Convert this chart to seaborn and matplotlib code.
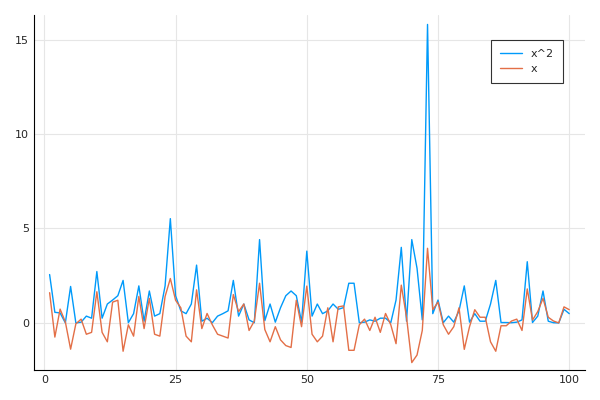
import matplotlib
matplotlib.use("Agg")
import matplotlib.pyplot as plt
import seaborn as sns
import numpy as np
import pandas as pd

x_vals = [1.6, -0.75, 0.73, 0.05, -1.39, -0.05, 0.2, -0.6, -0.5, 1.65,
          -0.5, -1.0, 1.1, 1.2, -1.5, -0.1, -0.7, 1.4, -0.3, 1.3,
          -0.6, -0.7, 1.4, 2.35, 1.2, 0.8, -0.7, -1.0, 1.75, -0.3,
          0.5, -0.1, -0.6, -0.7, -0.8, 1.5, 0.6, 1.0, -0.4, 0.1,
          2.1, -0.35, -1.0, -0.2, -0.9, -1.2, -1.3, 1.2, -0.2, 1.95,
          -0.6, -1.0, -0.7, 0.8, -1.0, 0.85, 0.9, -1.45, -1.45, -0.1,
          0.2, -0.4, 0.3, -0.5, 0.5, -0.1, -1.1, 2.0, 0.3, -2.1,
          -1.7, -0.4, 3.95, 0.7, 1.1, -0.1, -0.6, -0.2, 0.8, -1.4,
          -0.2, 0.7, 0.3, 0.3, -1.0, -1.5, -0.15, -0.15, 0.1, 0.2,
          -0.4, 1.8, 0.15, 0.6, 1.3, 0.3, 0.1, 0.0, 0.85, 0.7]
x_sq = [2.56, 0.56, 0.53, 0.0, 1.93, 0.0, 0.04, 0.36, 0.25, 2.72,
        0.25, 1.0, 1.21, 1.44, 2.25, 0.01, 0.49, 1.96, 0.09, 1.69,
        0.36, 0.49, 1.96, 5.52, 1.44, 0.64, 0.49, 1.0, 3.06, 0.09,
        0.25, 0.01, 0.36, 0.49, 0.64, 2.25, 0.36, 1.0, 0.16, 0.01,
        4.41, 0.12, 1.0, 0.04, 0.81, 1.44, 1.69, 1.44, 0.04, 3.8,
        0.36, 1.0, 0.49, 0.64, 1.0, 0.72, 0.81, 2.1, 2.1, 0.01,
        0.04, 0.16, 0.09, 0.25, 0.25, 0.01, 1.21, 4.0, 0.09, 4.41,
        2.89, 0.16, 15.8, 0.49, 1.21, 0.01, 0.36, 0.04, 0.64, 1.96,
        0.04, 0.49, 0.09, 0.09, 1.0, 2.25, 0.02, 0.02, 0.01, 0.04,
        0.16, 3.24, 0.02, 0.36, 1.69, 0.09, 0.01, 0.0, 0.72, 0.49]
idx = np.arange(1, len(x_vals) + 1)

df = pd.DataFrame({"i": np.concatenate([idx, idx]),
                   "v": x_sq + x_vals,
                   "series": ["x^2"] * len(idx) + ["x"] * len(idx)})

sns.set_style("white")
fig, ax = plt.subplots(figsize=(6, 4), dpi=100)
sns.lineplot(data=df, x="i", y="v", hue="series",
             palette=["#009AFA", "#E36F47"], linewidth=1, ax=ax)
ax.set_xlim(-2, 103)
ax.set_ylim(-2.5, 16.3)
ax.set_xticks([0, 25, 50, 75, 100])
ax.set_yticks([0, 5, 10, 15])
ax.grid(True, color="#e6e6e6", linewidth=0.8)
ax.set_xlabel(""); ax.set_ylabel("")
for s in ["top", "right"]:
    ax.spines[s].set_visible(False)
for s in ["left", "bottom"]:
    ax.spines[s].set_color("black")
ax.tick_params(labelsize=8, length=3, direction="in")
leg = ax.legend(loc="upper right", fontsize=8, fancybox=False,
                edgecolor="black", bbox_to_anchor=(0.96, 0.93),
                borderaxespad=0, borderpad=0.8)
leg.get_frame().set_linewidth(0.8)
plt.tight_layout()
plt.savefig("out.png")
